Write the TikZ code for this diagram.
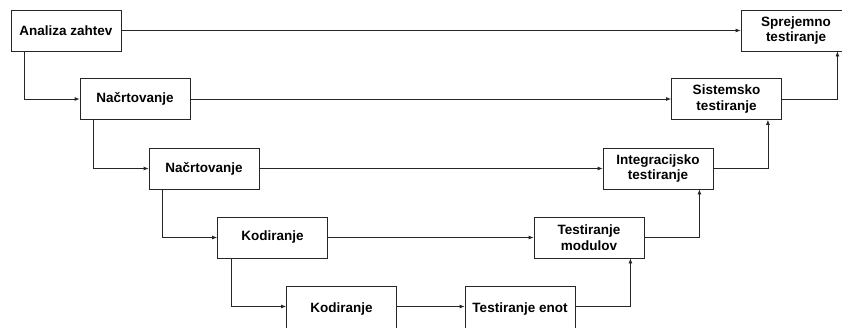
\documentclass[tikz,border=0pt]{standalone}
\usepackage{fontspec}
\setmainfont{Liberation Sans}
\usetikzlibrary{arrows.meta}
\tikzset{
  stagebox/.style={draw=black!85, line width=0.8pt, fill=white, minimum width=110pt, minimum height=41pt,
    inner sep=0pt, align=center, font=\fontsize{13.5}{15.5}\selectfont\bfseries},
  cutbox/.style={stagebox, minimum height=46pt},
  flow/.style={draw=black!85, line width=0.8pt, -{Latex[length=5pt,width=4pt]}}
}
\begin{document}
\begin{tikzpicture}[x=1pt,y=-1pt]
\useasboundingbox (0,0) rectangle (842,327);
\clip (0,0) rectangle (842,327);
\node[stagebox] (a1) at (66,30.5) {Analiza zahtev};
\node[stagebox] (a2) at (135,99) {Načrtovanje};
\node[stagebox] (a3) at (204,168.5) {Načrtovanje};
\node[stagebox] (a4) at (272.5,237.5) {Kodiranje};
\node[cutbox] (a5) at (341.5,309) {\raisebox{2.5pt}{Kodiranje}};
\node[cutbox] (b5) at (520,309) {\raisebox{2.5pt}{Testiranje enot}};
\node[stagebox] (b4) at (589,237.5) {Testiranje\\modulov};
\node[stagebox] (b3) at (658,168.5) {Integracijsko\\testiranje};
\node[stagebox] (b2) at (726.5,99) {Sistemsko\\testiranje};
\node[stagebox] (b1) at (796,30.5) {Sprejemno\\testiranje};
% horizontals
\draw[flow] (a1.east) -- (b1.west);
\draw[flow] (a2.east) -- (b2.west);
\draw[flow] (a3.east) -- (b3.west);
\draw[flow] (a4.east) -- (b4.west);
\draw[flow] ([yshift=2.5pt]a5.east) -- ([yshift=2.5pt]b5.west);
% descending
\draw[flow] ([xshift=14pt]a1.south west) |- (a2.west);
\draw[flow] ([xshift=14pt]a2.south west) |- (a3.west);
\draw[flow] ([xshift=14pt]a3.south west) |- (a4.west);
\draw[flow] ([xshift=14pt]a4.south west) |- ([yshift=2.5pt]a5.west);
% ascending
\draw[flow] ([yshift=2.5pt]b5.east) -| ([xshift=-14pt]b4.south east);
\draw[flow] (b4.east) -| ([xshift=-14pt]b3.south east);
\draw[flow] (b3.east) -| ([xshift=-14pt]b2.south east);
\draw[flow] (b2.east) -| ([xshift=-14pt]b1.south east);
\end{tikzpicture}
\end{document}
